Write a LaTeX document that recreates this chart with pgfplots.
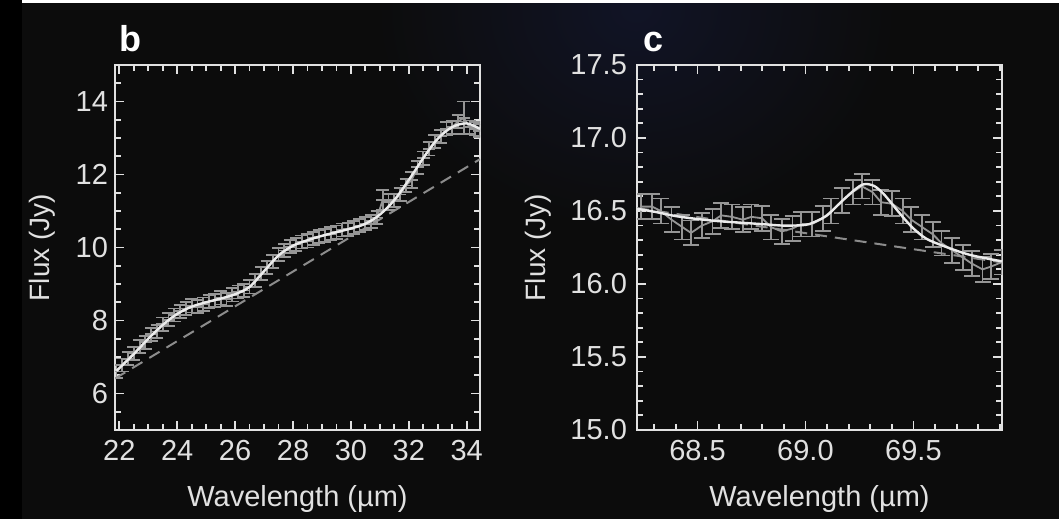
\documentclass[border=0pt]{standalone}
\usepackage{fontspec}
\setmainfont{Liberation Sans}
\usepackage{pgfplots}
\usepackage{pgfplotstable}
\pgfplotsset{compat=1.18}
\definecolor{bg}{RGB}{12,12,12}
\definecolor{axc}{RGB}{225,225,225}
\definecolor{datc}{RGB}{150,150,150}
\definecolor{fitc}{RGB}{235,235,235}
\definecolor{dashc}{RGB}{140,140,140}
\definecolor{glow}{RGB}{17,20,38}

\pgfplotstableread{
x y ey
21.9 6.60 0.18
22.1 6.78 0.18
22.3 6.95 0.18
22.5 7.10 0.18
22.7 7.28 0.18
22.9 7.40 0.18
23.1 7.62 0.18
23.3 7.70 0.18
23.5 7.90 0.18
23.7 8.02 0.18
23.9 8.15 0.18
24.1 8.25 0.18
24.3 8.33 0.18
24.5 8.40 0.18
24.7 8.38 0.18
24.9 8.45 0.18
25.1 8.52 0.18
25.3 8.55 0.18
25.5 8.62 0.18
25.7 8.58 0.18
25.9 8.70 0.18
26.1 8.78 0.18
26.3 8.82 0.18
26.5 8.92 0.18
26.7 9.10 0.18
26.9 9.28 0.18
27.1 9.45 0.18
27.3 9.62 0.18
27.5 9.80 0.18
27.7 9.92 0.18
27.9 10.02 0.18
28.1 10.08 0.18
28.3 10.15 0.18
28.5 10.18 0.18
28.7 10.25 0.18
28.9 10.30 0.18
29.1 10.33 0.18
29.3 10.38 0.18
29.5 10.42 0.18
29.7 10.48 0.18
29.9 10.50 0.18
30.1 10.55 0.18
30.3 10.60 0.18
30.5 10.65 0.18
30.7 10.72 0.18
30.9 10.82 0.18
31.1 11.30 0.28
31.3 11.25 0.22
31.5 11.30 0.18
31.7 11.45 0.18
31.9 11.70 0.18
32.1 11.85 0.22
32.3 12.20 0.18
32.5 12.45 0.18
32.7 12.70 0.18
32.9 12.90 0.18
33.1 13.05 0.18
33.3 13.25 0.18
33.5 13.30 0.18
33.7 13.45 0.18
33.9 13.55 0.45
34.1 13.30 0.18
34.3 13.25 0.18
34.45 13.20 0.18
}\datab

\pgfplotstableread{
x y
21.9 6.62
22.5 7.08
23.0 7.50
23.5 7.88
24.0 8.18
24.5 8.38
25.0 8.50
25.5 8.60
26.0 8.72
26.5 8.92
27.0 9.35
27.5 9.78
28.0 10.05
28.5 10.20
29.0 10.32
29.5 10.42
30.0 10.52
30.5 10.65
31.0 10.90
31.5 11.30
32.0 11.85
32.5 12.45
33.0 12.98
33.5 13.30
34.0 13.40
34.46 13.25
}\fitb

\pgfplotstableread{
x y
68.24 16.53
68.29 16.53
68.33 16.50
68.38 16.44
68.43 16.39
68.47 16.35
68.52 16.40
68.57 16.43
68.61 16.47
68.66 16.46
68.71 16.44
68.75 16.46
68.80 16.45
68.84 16.39
68.89 16.36
68.94 16.38
68.98 16.41
69.03 16.41
69.08 16.45
69.12 16.50
69.17 16.57
69.22 16.63
69.26 16.67
69.31 16.63
69.35 16.56
69.40 16.55
69.45 16.50
69.49 16.44
69.54 16.39
69.59 16.34
69.63 16.28
69.68 16.23
69.73 16.18
69.77 16.14
69.82 16.10
69.86 16.12
69.91 16.15
}\datac

\pgfplotstableread{
x y
68.22 16.515
68.30 16.495
68.40 16.465
68.50 16.445
68.60 16.430
68.70 16.420
68.80 16.410
68.90 16.400
69.00 16.405
69.05 16.430
69.10 16.470
69.15 16.540
69.20 16.610
69.25 16.670
69.28 16.685
69.32 16.670
69.36 16.620
69.40 16.550
69.45 16.460
69.50 16.380
69.56 16.310
69.64 16.260
69.76 16.200
69.91 16.155
}\fitc

\pgfplotsset{
  panel/.style={
    scale only axis, width=182.5pt, height=182.5pt,
    axis line style={axc, line width=1.3pt},
    every tick/.style={axc, line width=0.9pt},
    major tick length=4.5pt, minor tick length=2.8pt,
    tick align=inside, xtick pos=both, ytick pos=both,
    /pgf/number format/assume math mode=true,
    ticklabel style={font=\fontsize{14.5}{16}\selectfont, text=axc},
    xticklabel style={yshift=-1.5pt},
    every axis x label/.style={at={(axis description cs:0.5,-0.21)}, anchor=base,
      font=\fontsize{14.5}{16}\selectfont, text=axc},
    every axis y label/.style={rotate=90, anchor=center,
      font=\fontsize{14}{16}\selectfont, text=axc},
    xlabel={Wavelength (\textmu m)},
    ylabel={Flux (Jy)},
  }
}

\begin{document}
\begin{tikzpicture}
\useasboundingbox (0,0) rectangle (529.5pt,259.5pt);
\fill[bg] (0,0) rectangle (529.5pt,259.5pt);
\shade[inner color=glow, outer color=bg] (318pt,255pt) ellipse (130pt and 110pt);
\fill[black] (0,0) rectangle (11pt,259.5pt);
\fill[white] (11pt,258pt) rectangle (529.5pt,259.5pt);

\begin{axis}[panel, at={(57.5pt,44.5pt)}, anchor=south west,
  xmin=21.85, xmax=34.46, ymin=5, ymax=15,
  xtick={22,24,...,34}, ytick={6,8,...,14},
  minor xtick={22.5,23,...,34}, minor ytick={5.5,6,...,14.5},
  every axis y label/.append style={at={(axis description cs:-0.2,0.5)}},
]
\addplot[dashc, line width=1pt, dash pattern=on 6pt off 4pt] coordinates {(21.85,6.41) (34.46,12.42)};
\addplot[draw=none, forget plot, error bars/.cd, x dir=both, x fixed=0.22, error mark=none,
  error bar style={draw=datc, line width=0.9pt}] table[x=x,y=y] {\datab};
\addplot[datc, line width=0.9pt, mark=none, error bars/.cd, y dir=both, y explicit,
  error bar style={datc, line width=0.9pt},
  error mark options={rotate=90, mark size=3.2pt, datc, line width=0.9pt}]
  table[x=x, y=y, y error=ey] {\datab};
\addplot[fitc, line width=1.2pt, smooth] table {\fitb};
\end{axis}

\begin{axis}[panel, at={(318.5pt,44.5pt)}, anchor=south west,
  xmin=68.22, xmax=69.91, ymin=15, ymax=17.5,
  xtick={68.5,69.0,69.5}, ytick={15,15.5,16,16.5,17,17.5},
  minor xtick={68.3,68.4,68.6,68.7,68.8,68.9,69.1,69.2,69.3,69.4,69.6,69.7,69.8,69.9},
  minor ytick={15.1,15.2,15.3,15.4,15.6,15.7,15.8,15.9,16.1,16.2,16.3,16.4,16.6,16.7,16.8,16.9,17.1,17.2,17.3,17.4},
  xticklabel style={/pgf/number format/.cd, fixed, fixed zerofill, precision=1},
  yticklabel style={xshift=-1.5pt, /pgf/number format/.cd, fixed, fixed zerofill, precision=1},
  every axis y label/.append style={at={(axis description cs:-0.271,0.5)}},
]
\addplot[dashc, line width=1pt, dash pattern=on 6pt off 4pt] coordinates {(68.22,16.52) (69.91,16.148)};
\addplot[datc, line width=0.9pt, mark=none, error bars/.cd, y dir=both, y fixed=0.085,
  error bar style={datc, line width=0.9pt},
  error mark options={rotate=90, mark size=4pt, datc, line width=0.9pt}]
  table {\datac};
\addplot[fitc, line width=1.2pt, smooth] table {\fitc};
\end{axis}

\node[anchor=base west, font=\bfseries\fontsize{18}{20}\selectfont, text=white] at (56pt,233.5pt) {b};
\node[anchor=base west, font=\bfseries\fontsize{18}{20}\selectfont, text=white] at (318pt,233.5pt) {c};
\end{tikzpicture}
\end{document}
